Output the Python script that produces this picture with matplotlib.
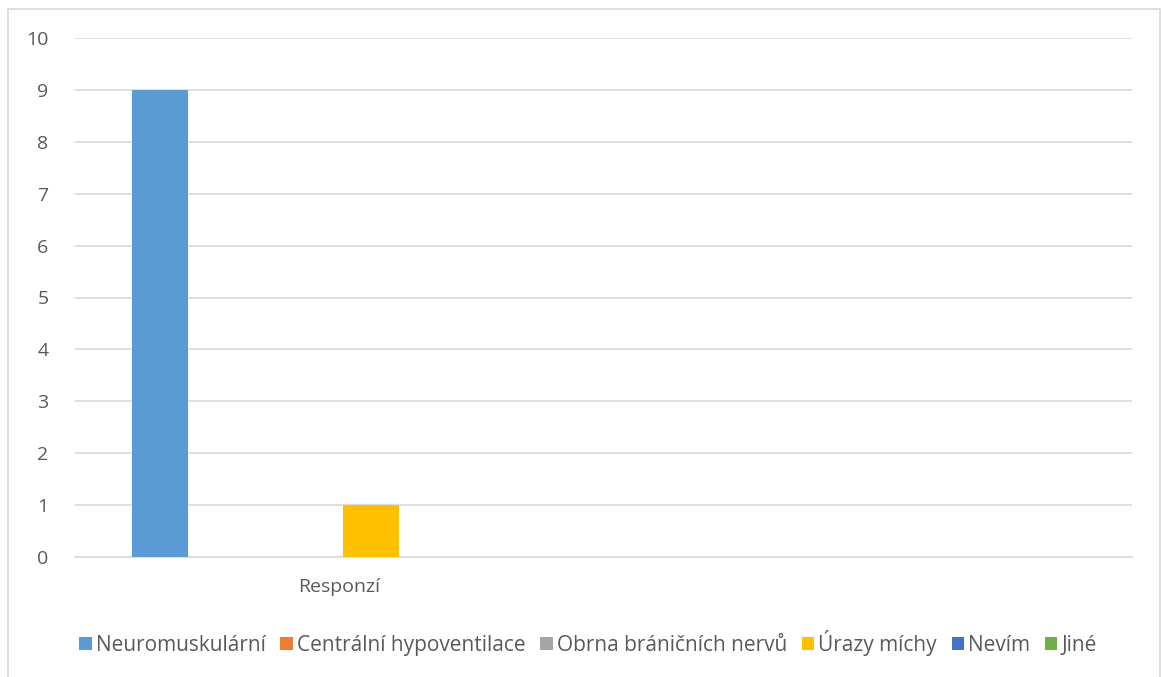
import matplotlib
matplotlib.use("Agg")
import matplotlib.pyplot as plt
import matplotlib.patches as mpatches
import numpy as np

plt.rcParams['font.family'] = ['Open Sans', 'DejaVu Sans']

categories = ["Responzí", ""]
series_names = ["Neuromuskulární", "Centrální hypoventilace", "Obrna bráničních nervů",
                "Úrazy míchy", "Nevím", "Jiné"]
series_values = [
    [9, 0],
    [0, 0],
    [0, 0],
    [1, 0],
    [0, 0],
    [0, 0],
]
colors = ["#5B9BD5", "#ED7D31", "#A5A5A5", "#FFC000", "#4472C4", "#70AD47"]
y_ticks = list(range(0, 11))


def main():
    fig = plt.figure(figsize=(11.61, 6.77), dpi=100)
    ax = fig.add_axes([75 / 1161, 1 - 557 / 677, (1132 - 75) / 1161, (557 - 38) / 677])

    # chart area border
    fig.patches.append(mpatches.Rectangle((8 / 1161, -0.05), (1160 - 8) / 1161, 1.05 - 9 / 677,
                                          transform=fig.transFigure, fill=False,
                                          edgecolor="#D9D9D9", linewidth=1.2))

    x = np.arange(len(categories))
    step = 0.133
    width = 0.106
    shift = -0.006
    n = len(series_names)
    for i, (name, vals, c) in enumerate(zip(series_names, series_values, colors)):
        ax.bar(x + (i - (n - 1) / 2) * step + shift, vals, width, color=c, label=name, zorder=3)

    ax.set_xlim(-0.5, len(categories) - 0.5)
    ax.set_ylim(0, 10)
    ax.set_yticks(y_ticks)
    ax.set_xticks(x)
    ax.set_xticklabels(categories)
    ax.yaxis.grid(True, color="#D9D9D9", linewidth=1.2, zorder=0)
    for s in ["top", "right", "left"]:
        ax.spines[s].set_visible(False)
    ax.spines["bottom"].set_color("#D9D9D9")
    ax.spines["bottom"].set_linewidth(1.2)
    ax.tick_params(axis="both", length=0, labelsize=14, colors="#595959")
    ax.tick_params(axis="y", pad=19)
    ax.tick_params(axis="x", pad=15)

    ax.legend(loc="center", bbox_to_anchor=(588 / 1161, 1 - 643 / 677),
              bbox_transform=fig.transFigure, ncol=n, frameon=False,
              fontsize=15, labelcolor="#595959", handlelength=0.6, handleheight=0.6,
              handletextpad=0.2, columnspacing=0.7)

    fig.savefig("out.png", dpi=100)


if __name__ == "__main__":
    main()
